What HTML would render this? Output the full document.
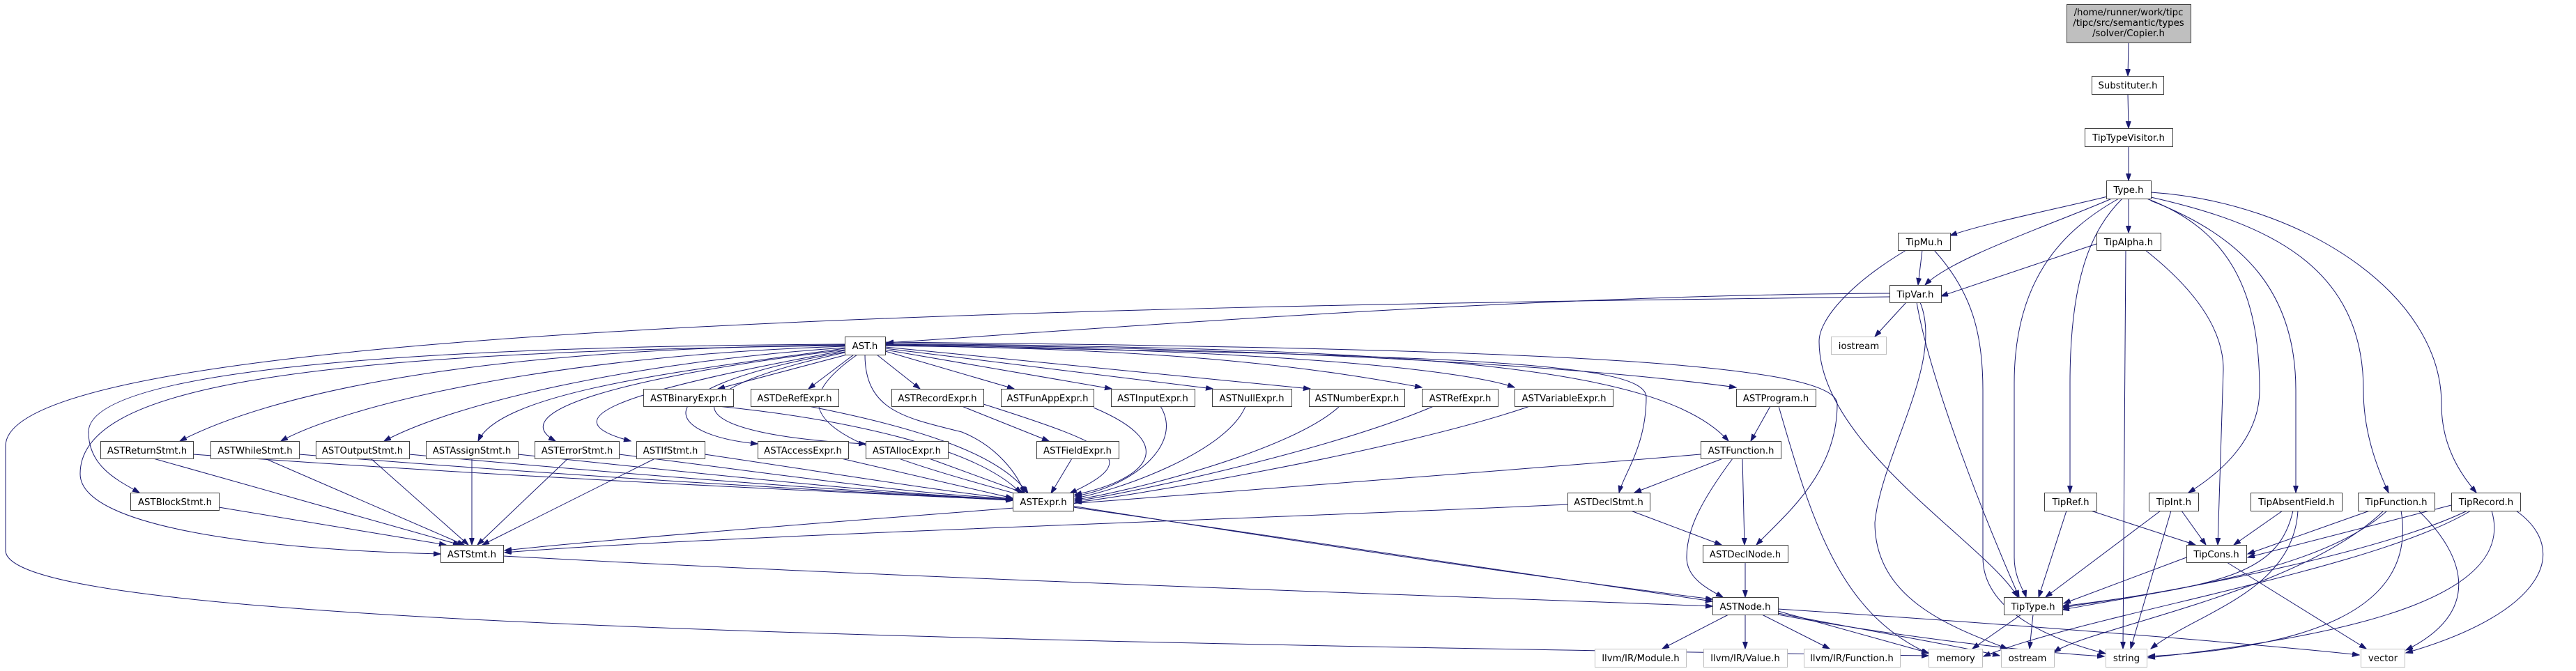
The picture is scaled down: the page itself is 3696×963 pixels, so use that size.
<!DOCTYPE html>
<html><head><meta charset="utf-8"><style>
html,body{margin:0;padding:0;background:#fff;}
svg{display:block;}
text{font-family:"DejaVu Sans","Liberation Sans",sans-serif;font-size:13.3px;fill:#000;text-anchor:middle;}
.n{fill:#fff;stroke:#404040;stroke-width:1;}
.g{fill:#fff;stroke:#bfbfbf;stroke-width:1;}
.e path{fill:none;stroke:#191970;stroke-width:1;marker-end:url(#a);}
</style></head><body>
<svg width="3696" height="963" viewBox="0 0 3696 963" xmlns="http://www.w3.org/2000/svg">
<defs><marker id="a" markerUnits="userSpaceOnUse" markerWidth="11" markerHeight="8" refX="10" refY="3.5" orient="auto"><path d="M0,0 L10,3.5 L0,7 z" fill="#191970" stroke="#191970"/></marker></defs>
<g class="e">
<path d="M3054,61 L3053,109"/>
<path d="M3053,135 L3054,184"/>
<path d="M3054,210 L3054,259"/>
<path d="M3024,282 C2950,300 2850,320 2798,338"/>
<path d="M3030,285 C2950,320 2800,370 2762,409"/>
<path d="M3054,285 L3054,334"/>
<path d="M3040,285 C2960,330 2890,400 2890,550 L2890,800 C2890,830 2905,850 2907,857"/>
<path d="M3045,285 C3000,330 2970,400 2970,550 L2970,707"/>
<path d="M3080,285 C3200,330 3242,420 3242,560 C3242,620 3200,670 3140,707"/>
<path d="M3086,288 C3220,340 3294,420 3294,560 L3294,707"/>
<path d="M3086,283 C3250,320 3391,380 3391,560 C3391,620 3410,670 3427,707"/>
<path d="M3086,276 C3300,290 3503,420 3503,580 C3503,640 3530,680 3553,707"/>
<path d="M2758,359 L2752,409"/>
<path d="M2735,359 C2650,410 2610,460 2610,490 C2610,640 2850,780 2895,857"/>
<path d="M2775,359 C2830,420 2845,480 2845,560 L2845,800 C2845,880 2950,920 3021,938"/>
<path d="M3008,350 L2785,425"/>
<path d="M3050,359 L3046,931"/>
<path d="M3078,359 C3130,400 3190,460 3190,530 L3182,782"/>
<path d="M2711,421 C2200,423 1600,470 1272,492"/>
<path d="M2735,434 L2690,483"/>
<path d="M2750,434 C2770,550 2850,750 2897,857"/>
<path d="M2755,434 C2790,520 2700,650 2690,750 C2690,860 2800,900 2880,931"/>
<path d="M2711,426 C1500,440 8,470 8,640 L8,790 C8,880 900,915 2767,941"/>
<path d="M2965,733 L2925,857"/>
<path d="M3000,733 L3150,782"/>
<path d="M3100,733 L2935,857"/>
<path d="M3130,733 L3165,782"/>
<path d="M3115,733 L3057,931"/>
<path d="M3275,733 L3205,782"/>
<path d="M3290,733 C3270,820 3200,840 2959,870"/>
<path d="M3297,733 C3290,850 3150,880 3086,931"/>
<path d="M3400,733 L3225,795"/>
<path d="M3425,733 C3330,820 3100,850 2959,872"/>
<path d="M3420,733 C3300,850 3000,900 2947,936"/>
<path d="M3445,733 C3470,880 3300,930 3082,942"/>
<path d="M3470,733 C3540,800 3560,880 3452,933"/>
<path d="M3517,725 L3225,800"/>
<path d="M3540,733 C3400,800 3100,850 2959,875"/>
<path d="M3545,733 C3400,820 3000,880 2846,942"/>
<path d="M3575,733 C3610,850 3400,910 3082,944"/>
<path d="M3610,733 C3690,790 3650,880 3452,937"/>
<path d="M3137,800 L2961,866"/>
<path d="M3195,807 L3395,931"/>
<path d="M2900,882 L2830,931"/>
<path d="M2917,882 L2912,931"/>
<path d="M2480,882 L2385,931"/>
<path d="M2504,882 L2504,931"/>
<path d="M2528,882 L2625,931"/>
<path d="M2551,877 L2767,937"/>
<path d="M2551,880 C2650,900 2800,925 2869,941"/>
<path d="M2551,882 C2700,910 2900,935 3019,942"/>
<path d="M2551,874 C2800,890 3200,920 3385,940"/>
<path d="M2504,807 L2504,857"/>
<path d="M2340,733 L2470,782"/>
<path d="M2249,724 C1800,745 1000,770 724,793"/>
<path d="M2472,658 L2345,707"/>
<path d="M2500,658 L2503,782"/>
<path d="M2486,658 C2440,720 2420,760 2420,800 C2420,830 2450,845 2472,857"/>
<path d="M2440,652 C2000,690 1000,760 724,790"/>
<path d="M2540,583 L2512,633"/>
<path d="M2552,583 C2600,750 2640,880 2767,938"/>
<path d="M1540,728 C1900,780 2300,840 2457,863"/>
<path d="M722,798 C1300,830 2200,860 2457,870"/>
<path d="M1030,583 C1200,600 1400,640 1465,708"/>
<path d="M1160,583 C1350,620 1440,660 1475,708"/>
<path d="M1380,583 L1505,633"/>
<path d="M1411,580 C1600,640 1640,660 1535,708"/>
<path d="M1569,585 C1700,640 1640,690 1542,710"/>
<path d="M1665,583 C1700,640 1620,700 1542,712"/>
<path d="M1787,583 C1760,650 1600,705 1542,715"/>
<path d="M1922,583 C1850,650 1600,710 1542,717"/>
<path d="M2057,583 C1900,650 1600,712 1542,719"/>
<path d="M2195,583 C2000,650 1600,715 1542,721"/>
<path d="M1207,658 L1453,715"/>
<path d="M1333,658 L1470,708"/>
<path d="M1538,658 L1508,708"/>
<path d="M277,652 C800,690 1300,710 1453,718"/>
<path d="M429,652 C900,690 1300,710 1453,718"/>
<path d="M587,652 C1000,690 1300,710 1453,717"/>
<path d="M743,652 C1100,690 1300,710 1453,717"/>
<path d="M888,652 C1150,685 1300,708 1453,716"/>
<path d="M1011,652 C1200,680 1350,705 1453,716"/>
<path d="M220,658 L660,782"/>
<path d="M380,658 L666,782"/>
<path d="M532,658 L672,782"/>
<path d="M677,658 L677,782"/>
<path d="M815,658 L685,782"/>
<path d="M940,658 L692,782"/>
<path d="M314,728 L640,782"/>
<path d="M1212,495 C700,500 400,560 258,633"/>
<path d="M1212,497 C800,510 500,580 403,633"/>
<path d="M1212,499 C900,520 650,580 551,633"/>
<path d="M1212,500 C1000,530 720,560 686,633"/>
<path d="M1212,502 C900,540 720,590 797,633"/>
<path d="M1212,503 C900,560 780,600 905,633"/>
<path d="M1212,494 C500,498 127,540 127,620 C127,670 170,690 200,707"/>
<path d="M1212,496 C400,505 115,560 115,680 C115,760 400,790 632,795"/>
<path d="M1215,509 L1030,558"/>
<path d="M1225,509 L1160,558"/>
<path d="M1258,509 L1320,558"/>
<path d="M1270,504 L1455,558"/>
<path d="M1270,502 L1595,558"/>
<path d="M1270,500 L1740,558"/>
<path d="M1270,498 L1880,558"/>
<path d="M1270,496 C1700,500 1900,530 2040,556"/>
<path d="M1270,495 C1800,500 2100,530 2173,556"/>
<path d="M1270,494 C1900,500 2300,530 2491,556"/>
<path d="M1270,493 C2000,500 2380,520 2480,633"/>
<path d="M1270,496 C2100,510 2362,520 2362,570 C2362,640 2330,680 2323,707"/>
<path d="M1270,491 C2200,500 2636,520 2636,580 C2636,680 2560,740 2520,782"/>
<path d="M1212,505 C900,560 960,625 1087,637"/>
<path d="M1212,506 C920,570 1000,625 1242,637"/>
<path d="M1241,509 C1241,590 1300,600 1380,620 C1430,640 1460,680 1470,708"/>
<path d="M1230,509 C1100,600 1200,640 1500,720 C2000,800 2300,840 2457,860"/>
</g>
<g>
<rect x="2965.5" y="6.5" width="178" height="55" fill="#bfbfbf" stroke="#404040"/>
<text x="3054" y="22">/home/runner/work/tipc</text>
<text x="3054" y="37">/tipc/src/semantic/types</text>
<text x="3054" y="52">/solver/Copier.h</text>
</g>
<g id="nodes"></g>
<g>
<rect class="n" x="3001.5" y="109.5" width="103" height="26"/><text x="3053" y="127">Substituter.h</text>
<rect class="n" x="2991.5" y="184.5" width="126" height="26"/><text x="3054" y="202">TipTypeVisitor.h</text>
<rect class="n" x="3022.5" y="259.5" width="64" height="26"/><text x="3054" y="277">Type.h</text>
<rect class="n" x="2723.5" y="334.5" width="75" height="25"/><text x="2761" y="352">TipMu.h</text>
<rect class="n" x="3008.5" y="334.5" width="92" height="25"/><text x="3054" y="352">TipAlpha.h</text>
<rect class="n" x="2711.5" y="409.5" width="74" height="25"/><text x="2748" y="427">TipVar.h</text>
<rect class="g" x="2627.5" y="483.5" width="79" height="25"/><text x="2667" y="501">iostream</text>
<rect class="n" x="1212.5" y="483.5" width="58" height="26"/><text x="1241" y="501">AST.h</text>

<rect class="n" x="923.5" y="558.5" width="129" height="25"/><text x="988" y="576">ASTBinaryExpr.h</text>
<rect class="n" x="1077.5" y="558.5" width="126" height="25"/><text x="1140" y="576">ASTDeRefExpr.h</text>
<rect class="n" x="1279.5" y="558.5" width="132" height="25"/><text x="1345" y="576">ASTRecordExpr.h</text>
<rect class="n" x="1436.5" y="558.5" width="133" height="25"/><text x="1503" y="576">ASTFunAppExpr.h</text>
<rect class="n" x="1594.5" y="558.5" width="120" height="25"/><text x="1654" y="576">ASTInputExpr.h</text>
<rect class="n" x="1739.5" y="558.5" width="114" height="25"/><text x="1796" y="576">ASTNullExpr.h</text>
<rect class="n" x="1878.5" y="558.5" width="137" height="25"/><text x="1947" y="576">ASTNumberExpr.h</text>
<rect class="n" x="2040.5" y="558.5" width="109" height="25"/><text x="2095" y="576">ASTRefExpr.h</text>
<rect class="n" x="2173.5" y="558.5" width="141" height="25"/><text x="2244" y="576">ASTVariableExpr.h</text>
<rect class="n" x="2491.5" y="558.5" width="114" height="25"/><text x="2548" y="576">ASTProgram.h</text>

<rect class="n" x="144.5" y="633.5" width="133" height="25"/><text x="211" y="651">ASTReturnStmt.h</text>
<rect class="n" x="302.5" y="633.5" width="127" height="25"/><text x="366" y="651">ASTWhileStmt.h</text>
<rect class="n" x="453.5" y="633.5" width="134" height="25"/><text x="520" y="651">ASTOutputStmt.h</text>
<rect class="n" x="611.5" y="633.5" width="132" height="25"/><text x="677" y="651">ASTAssignStmt.h</text>
<rect class="n" x="767.5" y="633.5" width="121" height="25"/><text x="828" y="651">ASTErrorStmt.h</text>
<rect class="n" x="913.5" y="633.5" width="98" height="25"/><text x="962" y="651">ASTIfStmt.h</text>
<rect class="n" x="1087.5" y="633.5" width="130" height="25"/><text x="1152" y="651">ASTAccessExpr.h</text>
<rect class="n" x="1242.5" y="633.5" width="118" height="25"/><text x="1301" y="651">ASTAllocExpr.h</text>
<rect class="n" x="1487.5" y="633.5" width="118" height="25"/><text x="1546" y="651">ASTFieldExpr.h</text>
<rect class="n" x="2440.5" y="633.5" width="115" height="25"/><text x="2498" y="651">ASTFunction.h</text>

<rect class="n" x="187.5" y="707.5" width="127" height="25"/><text x="251" y="725">ASTBlockStmt.h</text>
<rect class="n" x="1453.5" y="707.5" width="87" height="26"/><text x="1497" y="725">ASTExpr.h</text>
<rect class="n" x="2249.5" y="707.5" width="118" height="26"/><text x="2308" y="725">ASTDeclStmt.h</text>
<rect class="n" x="2933.5" y="707.5" width="75" height="26"/><text x="2971" y="725">TipRef.h</text>
<rect class="n" x="3083.5" y="707.5" width="71" height="26"/><text x="3119" y="725">TipInt.h</text>
<rect class="n" x="3229.5" y="707.5" width="131" height="26"/><text x="3295" y="725">TipAbsentField.h</text>
<rect class="n" x="3383.5" y="707.5" width="110" height="26"/><text x="3438" y="725">TipFunction.h</text>
<rect class="n" x="3517.5" y="707.5" width="99" height="26"/><text x="3567" y="725">TipRecord.h</text>

<rect class="n" x="632.5" y="782.5" width="90" height="25"/><text x="677" y="800">ASTStmt.h</text>
<rect class="n" x="2443.5" y="782.5" width="122" height="25"/><text x="2504" y="800">ASTDeclNode.h</text>
<rect class="n" x="3137.5" y="782.5" width="86" height="25"/><text x="3180" y="800">TipCons.h</text>

<rect class="n" x="2457.5" y="857.5" width="94" height="25"/><text x="2504" y="875">ASTNode.h</text>
<rect class="n" x="2875.5" y="857.5" width="84" height="25"/><text x="2917" y="875">TipType.h</text>

<rect class="g" x="2288.5" y="931.5" width="131" height="26"/><text x="2354" y="949">llvm/IR/Module.h</text>
<rect class="g" x="2444.5" y="931.5" width="120" height="26"/><text x="2504" y="949">llvm/IR/Value.h</text>
<rect class="g" x="2588.5" y="931.5" width="138" height="26"/><text x="2657" y="949">llvm/IR/Function.h</text>
<rect class="g" x="2767.5" y="931.5" width="77" height="26"/><text x="2806" y="949">memory</text>
<rect class="g" x="2871.5" y="931.5" width="76" height="26"/><text x="2909" y="949">ostream</text>
<rect class="g" x="3021.5" y="931.5" width="59" height="26"/><text x="3051" y="949">string</text>
<rect class="g" x="3387.5" y="931.5" width="63" height="26"/><text x="3419" y="949">vector</text>
</g>
</svg>
</body></html>
